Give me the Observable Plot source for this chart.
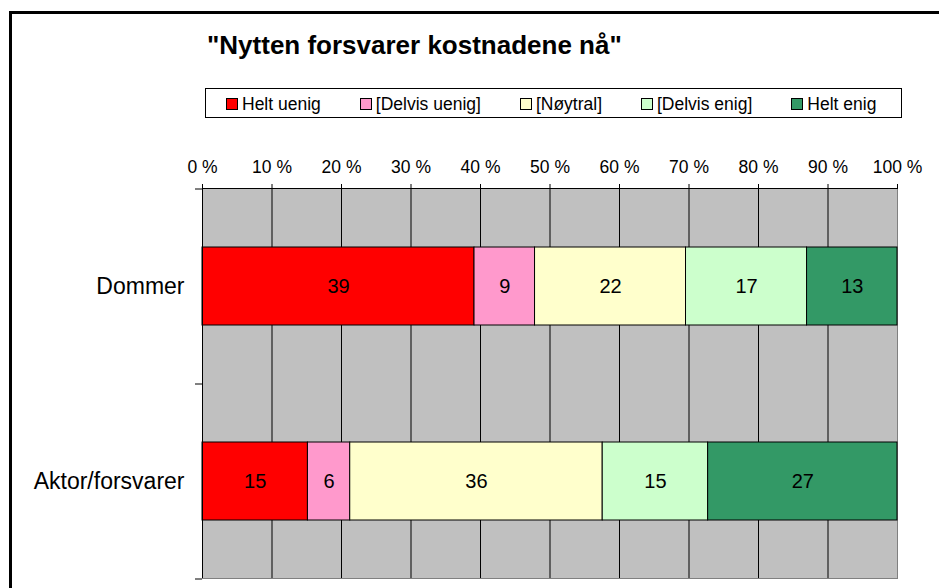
<!DOCTYPE html>
<html>
<head>
<meta charset="utf-8">
<script src="https://cdn.jsdelivr.net/npm/d3@7"></script>
<script src="https://cdn.jsdelivr.net/npm/@observablehq/plot@0.6"></script>
<style>
  html, body { margin: 0; padding: 0; }
  body { width: 939px; height: 588px; overflow: hidden; background: #fff; position: relative;
         font-family: "Liberation Sans", Arial, sans-serif; color: #000; }
  #title { position: absolute; left: 207px; top: 32px; font-size: 26px; line-height: 26px; font-weight: bold; white-space: nowrap; }
  #legend { position: absolute; left: 205px; top: 88px; width: 697px; height: 30px; box-sizing: border-box;
            border: 1px solid #000; display: flex; align-items: center; padding-left: 20px; padding-top: 2px; gap: 39px; font-size: 17.5px; }
  #legend .item { display: flex; align-items: center; white-space: nowrap; }
  #legend .sw { width: 10px; height: 10px; border: 1px solid #000; margin-right: 4px; display: inline-block; }
  #chart { position: absolute; left: 0; top: 130px; }
  #frame { position: absolute; left: 9px; top: 11px; width: 2000px; height: 2000px; border: 3px solid #000; pointer-events: none; }
</style>
</head>
<body>
<div id="title"></div>
<div id="legend"></div>
<div id="chart"></div>
<div id="frame"></div>
<script>
const titleText = "\"Nytten forsvarer kostnadene nå\"";
const categories = ["Dommer", "Aktor/forsvarer"];
const responses = ["Helt uenig", "[Delvis uenig]", "[Nøytral]", "[Delvis enig]", "Helt enig"];
const colors = ["#FF0000", "#FF99CC", "#FFFFCC", "#CCFFCC", "#339966"];
const dommerValues = [39.1, 8.7, 21.7, 17.4, 13.0];
const aktorValues = [15.2, 6.1, 36.4, 15.2, 27.3];
const xTickValues = [0, 10, 20, 30, 40, 50, 60, 70, 80, 90, 100];

const seriesByCategory = [dommerValues, aktorValues];
const rows = [];
categories.forEach((c, i) => {
  responses.forEach((r, j) => rows.push({group: c, response: r, value: seriesByCategory[i][j]}));
});

document.getElementById("title").textContent = titleText;
const legend = document.getElementById("legend");
responses.forEach((r, j) => {
  const item = document.createElement("div");
  item.className = "item";
  const sw = document.createElement("span");
  sw.className = "sw";
  sw.style.background = colors[j];
  const t = document.createElement("span");
  t.textContent = r;
  item.appendChild(sw);
  item.appendChild(t);
  legend.appendChild(item);
});

const W = 939, H = 458;
const mTop = 58, mBottom = 10, mLeft = 202, mRight = 42;
const plotW = W - mLeft - mRight;
const plotH = H - mTop - mBottom;
const step = plotH / categories.length;
const tickLen = 7;
const xt = xTickValues.map(d => d / 100);

const chart = Plot.plot({
  width: W,
  height: H,
  marginTop: mTop,
  marginBottom: mBottom,
  marginLeft: mLeft,
  marginRight: mRight,
  style: {background: "transparent", fontFamily: "Liberation Sans, Arial, sans-serif", fontSize: "17.5px", color: "#000"},
  x: {domain: [0, 1], axis: null},
  y: {domain: categories, paddingInner: 0.6, paddingOuter: 0.3, axis: null},
  color: {domain: responses, range: colors},
  marks: [
    Plot.frame({fill: "#C0C0C0", stroke: "#808080"}),
    Plot.ruleX(xt.filter(d => d > 0 && d < 1), {stroke: "#000", strokeWidth: 1}),
    Plot.barX(rows, Plot.stackX({x: "value", y: "group", fill: "response", offset: "normalize", stroke: "#000", strokeWidth: 1})),
    Plot.text(rows, Plot.stackX({x: "value", y: "group", z: "response", offset: "normalize",
      text: d => String(Math.round(d.value)), fontSize: 20, fill: "#000"})),
    Plot.ruleX([0], {stroke: "#000"}),
    Plot.frame({anchor: "top", stroke: "#000"}),
    Plot.ruleY(categories, {y: d => d, x1: 0, x2: tickLen / plotW, dx: -tickLen, dy: -step / 2, stroke: "#000"}),
    Plot.ruleY(categories.slice(-1), {y: d => d, x1: 0, x2: tickLen / plotW, dx: -tickLen, dy: step / 2, stroke: "#000"}),
    Plot.axisX({anchor: "top", ticks: xt, tickFormat: d => Math.round(d * 100) + " %", tickSize: 5, tickPadding: 11, fontSize: 17.5, label: null}),
    Plot.axisY({anchor: "left", tickSize: 0, tickPadding: 18, fontSize: 23, label: null})
  ]
});
document.getElementById("chart").appendChild(chart);
</script>
</body>
</html>
